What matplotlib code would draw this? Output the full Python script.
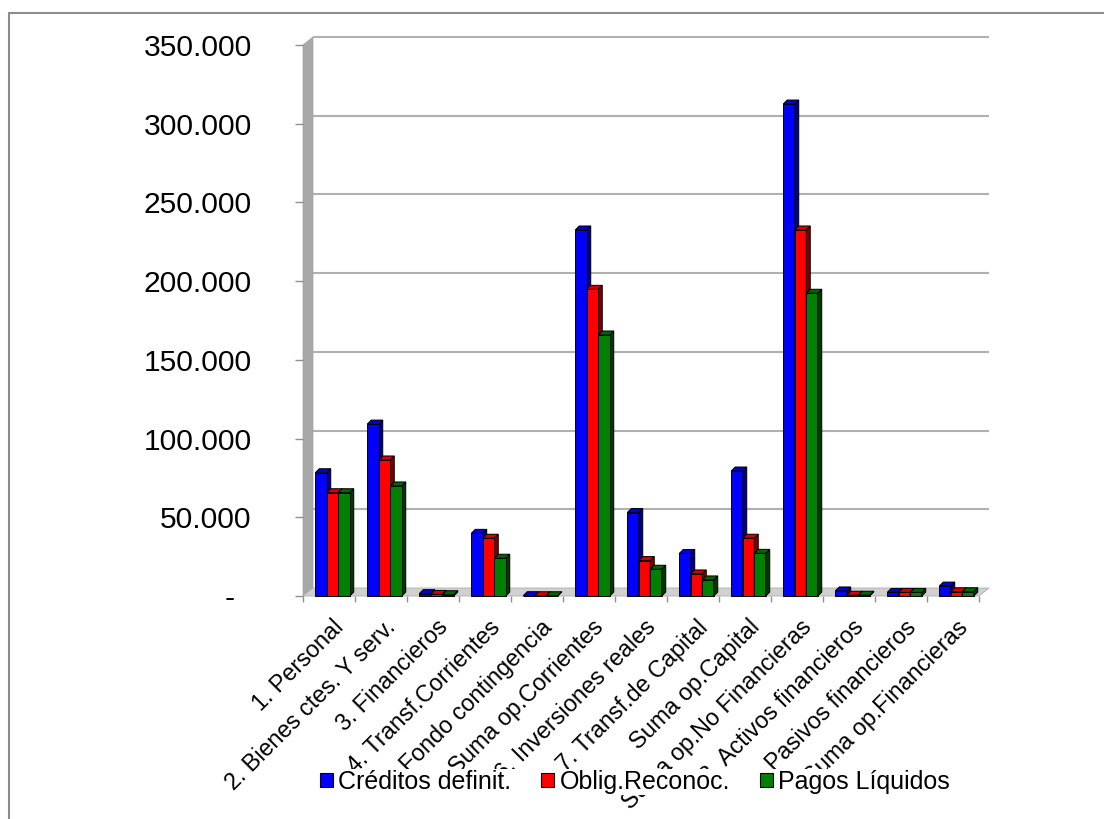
import matplotlib
matplotlib.use('Agg')
import matplotlib.pyplot as plt
from matplotlib.patches import Polygon, Rectangle, Patch
from matplotlib.ticker import FuncFormatter, FixedLocator
import numpy as np

plt.rcParams['font.family'] = ['Liberation Sans', 'DejaVu Sans']

categories = ["1. Personal", "2. Bienes ctes. Y serv.", "3. Financieros",
              "4. Transf.Corrientes", "5. Fondo contingencia", "Suma op.Corrientes",
              "6. Inversiones reales", "7. Transf.de Capital", "Suma op.Capital",
              "Suma op.No Financieras", "8. Activos financieros",
              "9. Pasivos financieros", "Suma op.Financieras"]
creditos = [78300, 109200, 1500, 39800, 200, 232500, 53000, 27000, 79400, 312500, 3200, 2300, 6300]
obligaciones = [65600, 86400, 1000, 36700, 150, 194800, 22500, 14000, 36700, 232500, 500, 2300, 2700]
pagos = [65600, 69900, 800, 24000, 150, 165800, 17000, 10200, 27100, 192300, 500, 2300, 2700]
series_names = ["Créditos definit.", "Oblig.Reconoc.", "Pagos Líquidos"]
y_ticks = [0, 50000, 100000, 150000, 200000, 250000, 300000, 350000]

front_colors = ['#0000FF', '#FF0000', '#008000']
side_colors = ['#000080', '#800000', '#003A00']
top_colors = ['#0000D0', '#D00000', '#006400']

W, H = 1104, 819
fig = plt.figure(figsize=(W / 100, H / 100), dpi=100)
ax = fig.add_axes([303 / W, (H - 596) / H, 676 / W, 551 / H])
n = len(categories)
ax.set_xlim(-0.5, n - 0.5)
ax.set_ylim(0, 350000)
for s in ax.spines.values():
    s.set_visible(False)

# pixel -> data unit conversions
p0 = ax.transData.transform((0, 0))
p1 = ax.transData.transform((1, 1))
ux = 1.0 / (p1[0] - p0[0])   # data x per pixel
uy = 1.0 / (p1[1] - p0[1])   # data y per pixel

# 3D wall/floor depth
wdx, wdy = 10 * ux, 8 * uy
x_left, x_right = -0.5, n - 0.5
ymax = 350000
# left wall
ax.add_patch(Polygon([(x_left, 0), (x_left, ymax), (x_left + wdx, ymax + wdy), (x_left + wdx, wdy)],
                     closed=True, facecolor='#a8a8a8', edgecolor='#a0a0a0', lw=0.5,
                     clip_on=False, zorder=1))
# floor
ax.add_patch(Polygon([(x_left, 0), (x_right, 0), (x_right + wdx, wdy), (x_left + wdx, wdy)],
                     closed=True, facecolor='#d0d0d0', edgecolor='#b0b0b0', lw=0.6,
                     clip_on=False, zorder=1))
# back gridlines
for yv in y_ticks[1:]:
    ax.plot([x_left + wdx, x_right + wdx], [yv + wdy, yv + wdy], color='#b0b0b0', lw=1.5,
            clip_on=False, zorder=0.5, solid_capstyle='butt')

# bars
bw = 11.5 * ux
shift = 3.5 * ux
bdx, bdy = 4 * ux, 4 * uy
series = [creditos, obligaciones, pagos]
x = np.arange(n)
for si, vals in enumerate(series):
    offs = (si - 1) * bw + shift
    for ci, v in enumerate(vals):
        xc = x[ci] + offs
        x0, x1 = xc - bw / 2, xc + bw / 2
        z = 3 + ci * 0.01 + si * 0.1
        ax.add_patch(Polygon([(x1, 0), (x1 + bdx, bdy), (x1 + bdx, v + bdy), (x1, v)],
                             closed=True, facecolor=side_colors[si], edgecolor='black',
                             lw=0.7, clip_on=False, zorder=z))
        ax.add_patch(Polygon([(x0, v), (x1, v), (x1 + bdx, v + bdy), (x0 + bdx, v + bdy)],
                             closed=True, facecolor=top_colors[si], edgecolor='black',
                             lw=0.7, clip_on=False, zorder=z))
    ax.bar(x + offs, vals, width=bw, color=front_colors[si], edgecolor='black',
           linewidth=0.7, zorder=3 + si * 0.1 + 0.05, clip_on=False)

# y axis
ax.yaxis.set_major_locator(FixedLocator(y_ticks))
ax.yaxis.set_major_formatter(FuncFormatter(
    lambda v, p: '-  ' if v == 0 else f"{int(round(v)):,}".replace(',', '.')))
ax.tick_params(axis='y', length=6, width=1, color='#909090', labelsize=21.6, pad=31)

# x axis
ax.set_xticks(x + 0.22)
ax.set_xticklabels(categories, rotation=45, ha='right', va='center',
                   rotation_mode='anchor', fontsize=16.8)
ax.set_xticks(np.arange(n + 1) - 0.5, minor=True)
ax.tick_params(axis='x', which='major', length=0, pad=20)
ax.tick_params(axis='x', which='minor', length=4.5, width=1, color='#909090')

# legend
handles = [Patch(facecolor=c, edgecolor='black', linewidth=0.8) for c in front_colors]
leg = fig.legend(handles, series_names, loc='center', bbox_to_anchor=(635 / W, 1 - 782 / H),
                 ncol=3, frameon=True, fontsize=18, handlelength=0.52, handleheight=0.52,
                 handletextpad=0.2, columnspacing=1.2, borderpad=0.05, fancybox=False)
leg.get_frame().set_facecolor('white')
leg.get_frame().set_edgecolor('none')
leg.get_frame().set_alpha(1)

# outer chart border (left and top visible)
fig.patches.append(Rectangle((9 / W, -0.1), 1.2, (H - 13) / H + 0.1, transform=fig.transFigure,
                             fill=False, edgecolor='#8c8c8c', lw=1.5, zorder=10))

fig.savefig('out.png', dpi=100, facecolor='white')
